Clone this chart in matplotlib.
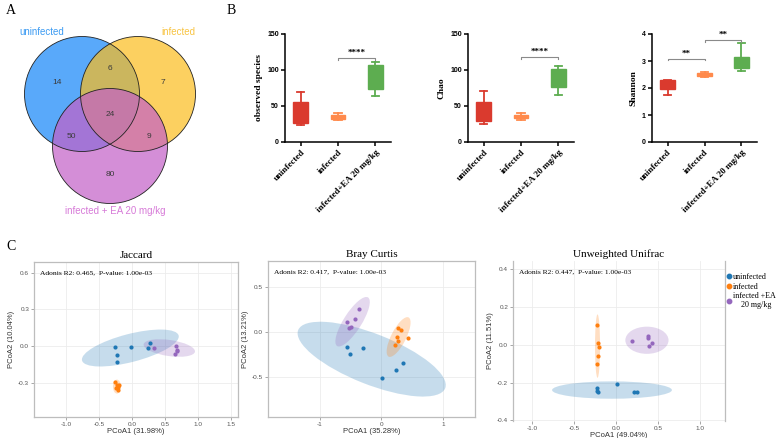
import matplotlib
matplotlib.use("Agg")
import matplotlib.pyplot as plt
from matplotlib.patches import Circle, Ellipse
from matplotlib.lines import Line2D
from matplotlib.transforms import Affine2D

plt.rcParams['axes.unicode_minus'] = False
SERIF = ['Liberation Serif', 'DejaVu Serif']
SANS = ['Liberation Sans', 'DejaVu Sans']

# ---------------- data ----------------
# A: venn
venn_sets = ["uninfected", "infected", "infected + EA 20 mg/kg"]
venn_counts = {"100": 14, "110": 6, "010": 7, "111": 24, "101": 50, "011": 9, "001": 80}

# B: alpha diversity boxes
box_groups = ["uninfected", "infected", "infected+EA 20 mg/kg"]
obs_whislo = [24, 30, 64]
obs_q1 = [27, 32, 73]
obs_med = [38, 35, 92]
obs_q3 = [55, 37, 107]
obs_whishi = [70, 40, 111.5]

chao_whislo = [25, 30.5, 65]
chao_q1 = [29, 33, 76]
chao_med = [40, 35.5, 90]
chao_q3 = [56, 38, 102]
chao_whishi = [71, 40.5, 106]

shan_whislo = [1.74, 2.41, 2.64]
shan_q1 = [1.97, 2.44, 2.75]
shan_med = [2.15, 2.5, 2.95]
shan_q3 = [2.30, 2.57, 3.16]
shan_whishi = [2.31, 2.60, 3.66]

obs_sig = [(1, 2, 116, "****")]
chao_sig = [(1, 2, 117.5, "****")]
shan_sig = [(0, 1, 3.07, "**"), (1, 2, 3.77, "**")]

# C: PCoA points
jac_uninf_x = [-0.26, -0.235, -0.226, -0.023, 0.235, 0.275]
jac_uninf_y = [-0.008, -0.068, -0.131, -0.003, -0.011, 0.028]
jac_inf_x = [-0.26, -0.235, -0.20, -0.25, -0.22, -0.21]
jac_inf_y = [-0.29, -0.32, -0.32, -0.345, -0.36, -0.33]
jac_ea_x = [0.331, 0.675, 0.68, 0.66, 0.685]
jac_ea_y = [-0.016, 0.0, -0.03, -0.06, -0.04]

bc_uninf_x = [-0.556, -0.502, -0.292, 0.011, 0.243, 0.357]
bc_uninf_y = [-0.169, -0.239, -0.18, -0.503, -0.423, -0.338]
bc_inf_x = [0.276, 0.319, 0.438, 0.259, 0.265, 0.216]
bc_inf_y = [0.048, 0.018, -0.07, -0.059, -0.103, -0.143]
bc_ea_x = [-0.357, -0.421, -0.551, -0.491, -0.524]
bc_ea_y = [0.257, 0.147, 0.107, 0.059, 0.04]

uw_uninf_x = [-0.23, -0.23, -0.214, 0.012, 0.209, 0.249]
uw_uninf_y = [-0.228, -0.246, -0.251, -0.209, -0.249, -0.249]
uw_inf_x = [-0.23, -0.218, -0.202, -0.21, -0.23]
uw_inf_y = [0.106, 0.011, -0.013, -0.057, -0.103]
uw_ea_x = [0.19, 0.375, 0.375, 0.431, 0.392]
uw_ea_y = [0.019, 0.049, 0.037, 0.012, -0.005]

# confidence ellipses: centre and two conjugate half-axes (data units)
jac_ell = [((-0.026, -0.015), (0.734, 0.102), (-0.053, 0.111)),
           ((-0.23, -0.33), (0.0, 0.057), (0.06, 0.0)),
           ((0.566, -0.015), (0.39, -0.03), (0.017, 0.065))]
bc_ell = [((-0.157, -0.30), (1.193, -0.322), (0.152, 0.26)),
          ((0.28, -0.055), (0.162, 0.217), (-0.107, 0.037)),
          ((-0.467, 0.114), (0.251, 0.269), (-0.123, 0.053))]
uw_ell = [((-0.048, -0.24), (0.713, 0.0), (0.0, 0.046)),
          ((-0.22, -0.007), (0.0, 0.168), (0.03, 0.0)),
          ((0.368, 0.024), (0.257, 0.0), (0.0, 0.072))]

adonis = ["Adonis R2: 0.465,  P-value: 1.00e-03",
          "Adonis R2: 0.417,  P-value: 1.00e-03",
          "Adonis R2: 0.447,  P-value: 1.00e-03"]
pcoa_titles = ["Jaccard", "Bray Curtis", "Unweighted Unifrac"]
pc1_labels = ["PCoA1 (31.98%)", "PCoA1 (35.28%)", "PCoA1 (49.04%)"]
pc2_labels = ["PCoA2 (10.04%)", "PCoA2 (13.21%)", "PCoA2 (11.51%)"]
legend_labels = ["uninfected", "infected", "infected +EA\n    20 mg/kg"]

box_colors = ["#DA3A2E", "#FF8A4C", "#5DAD50"]
pt_colors = ["#1F77B4", "#FF7F0E", "#9467BD"]

W, H = 784, 438
fig = plt.figure(figsize=(W / 100, H / 100), dpi=100)


def px_axes(l, t, r, b):
    return fig.add_axes([l / W, 1 - b / H, (r - l) / W, (b - t) / H])


# ---------------- A: venn ----------------
av = px_axes(0, 0, 225, 225)
av.set_xlim(0, 225)
av.set_ylim(225, 0)
av.axis('off')
venn_circles = [((82, 94), "#1385F8"), ((138, 94), "#FCBC1C"), ((110, 146), "#C35FC7")]
for (c, col) in venn_circles:
    av.add_patch(Circle(c, 57.5, facecolor=col, alpha=0.7, edgecolor='none'))
for (c, col) in venn_circles:
    av.add_patch(Circle(c, 57.5, facecolor='none', edgecolor='#222222', lw=0.6))
count_pos = {"100": (57, 82), "110": (110, 68), "010": (163, 82), "111": (110, 114),
             "101": (71, 136), "011": (149, 136), "001": (110, 174)}
for k, v in venn_counts.items():
    av.text(*count_pos[k], str(v), ha='center', va='center', fontsize=6, color='#3a3a3a', family=SANS)
av.text(42, 32, venn_sets[0], ha='center', va='center', fontsize=7, color='#3C9BF2', family=SANS)
av.text(178, 32, venn_sets[1], ha='center', va='center', fontsize=7, color='#F8C443', family=SANS)
av.text(115, 211, venn_sets[2], ha='center', va='center', fontsize=7, color='#D77BD8', family=SANS)

# ---------------- B: boxes ----------------
def box_panel(rect, lo, q1, med, q3, hi, ylim, yticks, ylabel, sigs):
    ax = px_axes(*rect)
    stats = []
    for i in range(len(box_groups)):
        stats.append(dict(whislo=lo[i], q1=q1[i], med=med[i], q3=q3[i], whishi=hi[i], fliers=[]))
    bp = ax.bxp(stats, positions=range(len(box_groups)), widths=0.4, patch_artist=True,
                showfliers=False, capwidths=0.2)
    for i, col in enumerate(box_colors):
        bp['boxes'][i].set(facecolor=col, edgecolor=col, lw=1)
        bp['medians'][i].set(color=col, lw=1)
        for j in (2 * i, 2 * i + 1):
            bp['whiskers'][j].set(color=col, lw=1.3)
            bp['caps'][j].set(color=col, lw=1.3)
    ax.set_xlim(-0.42, 2.42)
    ax.set_ylim(*ylim)
    ax.set_yticks(yticks)
    ax.set_yticklabels([str(t) for t in yticks], fontsize=5, fontweight='bold', family=SANS)
    ax.set_xticks(range(len(box_groups)))
    ax.set_xticklabels(box_groups, rotation=45, ha='right', rotation_mode='anchor',
                       fontsize=6.5, fontweight='bold', family=SERIF)
    ax.set_ylabel(ylabel, fontsize=6.8, fontweight='bold', family=SERIF, labelpad=3)
    for s in ('top', 'right'):
        ax.spines[s].set_visible(False)
    for s in ('left', 'bottom'):
        ax.spines[s].set_linewidth(1.1)
    ax.tick_params(width=1.1, length=3, pad=1.5)
    d = (ylim[1] - ylim[0]) * 0.012
    for (a, b, y, txt) in sigs:
        ax.plot([a, a, b, b], [y - d, y, y, y - d], color='#8a8a8a', lw=0.8, clip_on=False)
        ax.text((a + b) / 2, y + d * 1.2, txt, ha='center', va='bottom', fontsize=6.5,
                fontweight='bold', family=SERIF, clip_on=False)
    return ax

box_panel((285, 34, 391, 142), obs_whislo, obs_q1, obs_med, obs_q3, obs_whishi,
          (0, 150), [0, 50, 100, 150], "observed species", obs_sig)
box_panel((468, 34, 574, 142), chao_whislo, chao_q1, chao_med, chao_q3, chao_whishi,
          (0, 150), [0, 50, 100, 150], "Chao", chao_sig)
box_panel((652, 34, 757, 142), shan_whislo, shan_q1, shan_med, shan_q3, shan_whishi,
          (0, 4), [0, 1, 2, 3, 4], "Shannon", shan_sig)

# ---------------- C: PCoA ----------------
def pcoa_panel(rect, pts, ells, xlim, ylim, xt, yt, xtl, ytl, idx, frame=True):
    ax = px_axes(*rect)
    ax.set_xlim(*xlim)
    ax.set_ylim(*ylim)
    ax.set_xticks(xt)
    ax.set_xticklabels(xtl)
    ax.set_yticks(yt)
    ax.set_yticklabels(ytl)
    ax.grid(True, color='#ECECEC', lw=0.6)
    ax.set_axisbelow(True)
    for (c, a, b), col in zip(ells, pt_colors):
        e = Ellipse((0, 0), 2, 2, facecolor=col, alpha=0.25, edgecolor='none')
        e.set_transform(Affine2D.from_values(a[0], a[1], b[0], b[1], c[0], c[1]) + ax.transData)
        ax.add_patch(e)
    for (x, y), col in zip(pts, pt_colors):
        ax.scatter(x, y, s=9, color=col, zorder=3, linewidths=0)
    for s in ax.spines.values():
        s.set_color('#BDBDBD')
        s.set_linewidth(0.9)
    if not frame:
        ax.spines['top'].set_visible(False)
        ax.spines['bottom'].set_visible(False)
    ax.tick_params(labelsize=4.6, labelcolor='#555555', color='#999999', length=2, pad=1.5, width=0.6)
    for lab in ax.get_xticklabels() + ax.get_yticklabels():
        lab.set_family(SANS)
    ax.set_xlabel(pc1_labels[idx], fontsize=5.5, color='#333333', family=SANS, labelpad=1)
    ax.set_ylabel(pc2_labels[idx], fontsize=5.5, color='#333333', family=SANS, labelpad=2)
    ax.set_title(pcoa_titles[idx], fontsize=8, family=SERIF, pad=3)
    ax.text(0.03, 0.93, adonis[idx], transform=ax.transAxes, fontsize=5.4, family=SERIF,
            va='center', ha='left')
    return ax

pcoa_panel((34, 262, 238, 417),
           [(jac_uninf_x, jac_uninf_y), (jac_inf_x, jac_inf_y), (jac_ea_x, jac_ea_y)], jac_ell,
           (-1.49, 1.61), (-0.578, 0.687),
           [-1.0, -0.5, 0.0, 0.5, 1.0, 1.5], [-0.3, 0.0, 0.3, 0.6],
           ["-1.0", "-0.5", "0.0", "0.5", "1.0", "1.5"], ["-0.3", "0.0", "0.3", "0.6"], 0)
pcoa_panel((268, 261, 475, 417),
           [(bc_uninf_x, bc_uninf_y), (bc_inf_x, bc_inf_y), (bc_ea_x, bc_ea_y)], bc_ell,
           (-1.84, 1.52), (-0.94, 0.786),
           [-1, 0, 1], [-0.5, 0.0, 0.5],
           ["-1", "0", "1"], ["-0.5", "0.0", "0.5"], 1)
pcoa_panel((513, 261, 725, 421),
           [(uw_uninf_x, uw_uninf_y), (uw_inf_x, uw_inf_y), (uw_ea_x, uw_ea_y)], uw_ell,
           (-1.226, 1.297), (-0.404, 0.444),
           [-1.0, -0.5, 0.0, 0.5, 1.0], [-0.4, -0.2, 0.0, 0.2, 0.4],
           ["-1.0", "-0.5", "0.0", "0.5", "1.0"], ["-0.4", "-0.2", "0.0", "0.2", "0.4"], 2,
           frame=False)

handles = [Line2D([], [], marker='o', ls='none', color=c, markersize=3.2) for c in pt_colors]
fig.legend(handles, legend_labels, loc='upper left', bbox_to_anchor=(725 / W, 1 - 273 / H),
           frameon=False, prop={'family': SERIF, 'size': 5.8}, handletextpad=0.05,
           handlelength=0.9, labelspacing=0.2, borderaxespad=0, borderpad=0)

# panel letters
for lab, x, y in [("A", 6, 11), ("B", 227, 11), ("C", 6, 246)]:
    fig.text(x / W, 1 - y / H, lab, fontsize=10, family=SERIF, va='center', ha='left')

fig.savefig("out.png", dpi=100)
